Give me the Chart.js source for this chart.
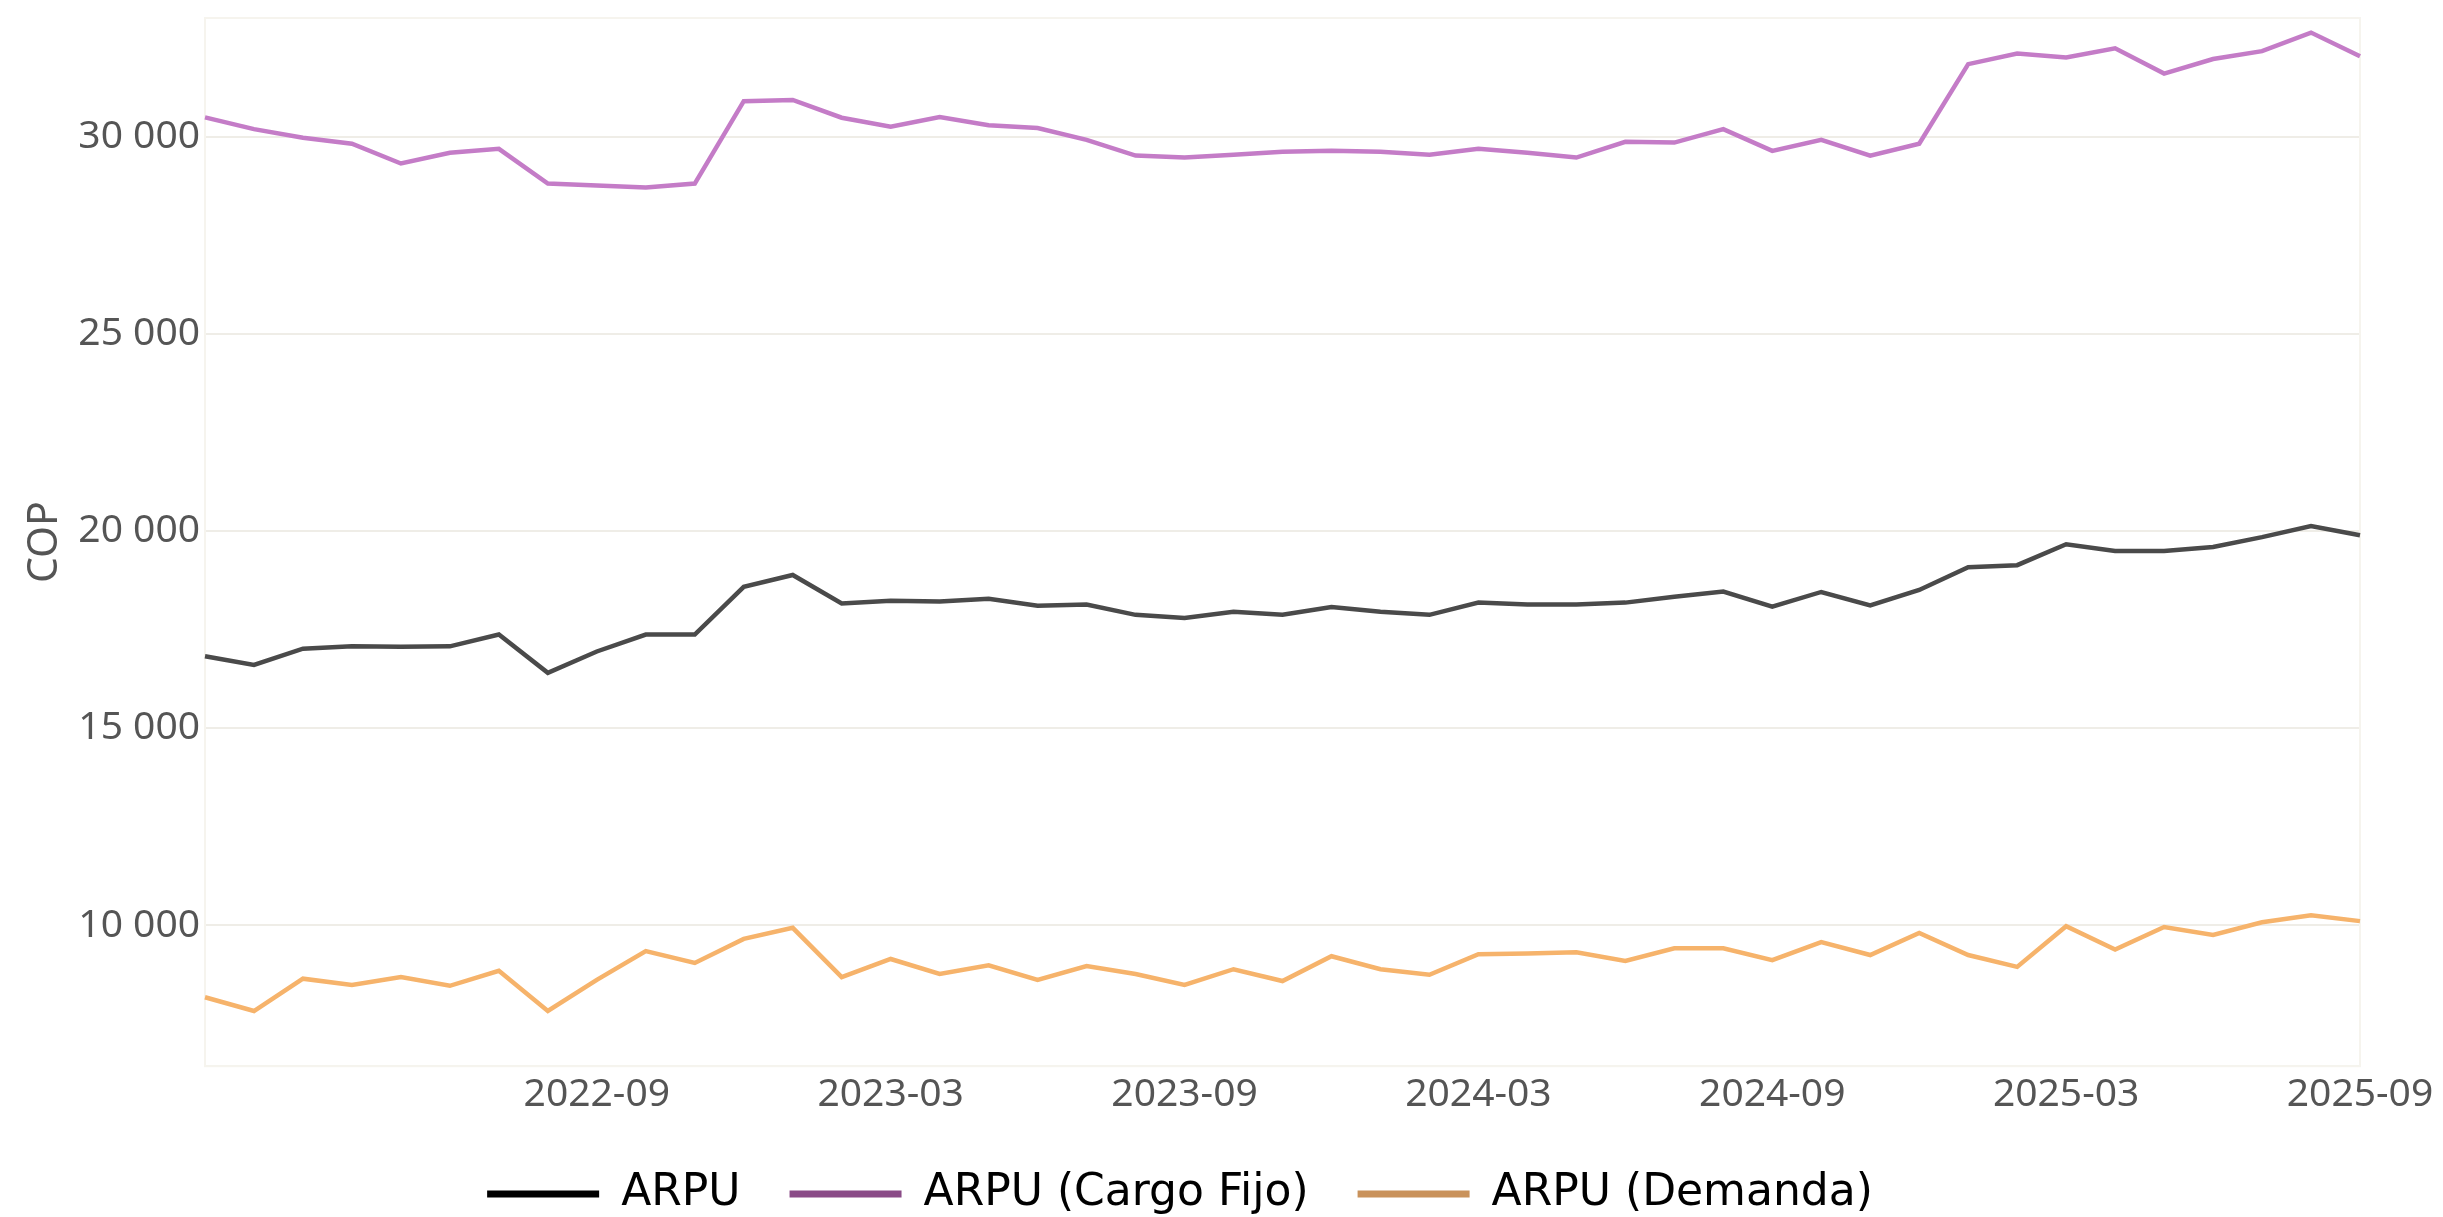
<!DOCTYPE html>
<html>
<head>
<meta charset="utf-8">
<script src="https://cdn.jsdelivr.net/npm/chart.js@4.4.1/dist/chart.umd.min.js"></script>
<style>
  html, body { margin: 0; padding: 0; background: #ffffff; }
  #wrap { width: 2443px; height: 1217px; }
</style>
</head>
<body>
<div id="wrap"><canvas id="arpuChart"></canvas></div>
<script>
const months = [
  "2022-01", "2022-02", "2022-03", "2022-04", "2022-05", "2022-06", "2022-07", "2022-08", "2022-09",
  "2022-10", "2022-11", "2022-12", "2023-01", "2023-02", "2023-03", "2023-04", "2023-05", "2023-06",
  "2023-07", "2023-08", "2023-09", "2023-10", "2023-11", "2023-12", "2024-01", "2024-02", "2024-03",
  "2024-04", "2024-05", "2024-06", "2024-07", "2024-08", "2024-09", "2024-10", "2024-11", "2024-12",
  "2025-01", "2025-02", "2025-03", "2025-04", "2025-05", "2025-06", "2025-07", "2025-08", "2025-09"
];

const arpu = [
  16830, 16610, 17020, 17080, 17070, 17080, 17380, 16410, 16950, 17380, 17380, 18590, 18890,
  18170, 18240, 18220, 18290, 18110, 18140, 17880, 17800, 17960, 17880, 18080, 17960, 17880,
  18190, 18140, 18140, 18190, 18340, 18470, 18090, 18460, 18120, 18510, 19090, 19140, 19670,
  19500, 19500, 19600, 19850, 20130, 19900
];

const arpuCargoFijo = [
  30500, 30200, 29980, 29830, 29330, 29600, 29700, 28820, 28770, 28720, 28820, 30910, 30940,
  30490, 30260, 30510, 30300, 30230, 29930, 29530, 29480, 29550, 29630, 29650, 29630, 29550,
  29700, 29600, 29480, 29880, 29860, 30200, 29650, 29930, 29530, 29830, 31850, 32120, 32020,
  32250, 31610, 31980, 32180, 32650, 32050
];

const arpuDemanda = [
  8180, 7830, 8650, 8490, 8690, 8470, 8850, 7830, 8620, 9350, 9050, 9660, 9940,
  8690, 9150, 8770, 8990, 8620, 8970, 8770, 8490, 8890, 8590, 9220, 8890, 8750,
  9270, 9290, 9320, 9100, 9420, 9420, 9120, 9580, 9250, 9810, 9250, 8950, 9980,
  9390, 9960, 9760, 10080, 10260, 10110
];

const seriesNames = ["ARPU", "ARPU (Cargo Fijo)", "ARPU (Demanda)"];
const yTicks = [10000, 15000, 20000, 25000, 30000];
const xTickLabels = ["2022-09", "2023-03", "2023-09", "2024-03", "2024-09", "2025-03", "2025-09"];

const lineColors = ["#4a4a4a", "#c47cc7", "#f6b36b"];
const legendColors = ["#000000", "#8a4b87", "#c9925b"];

const tickFont = { family: "'Noto Sans', sans-serif", size: 39 };

function formatThousands(value) {
  return String(value).replace(/\B(?=(\d{3})+(?!\d))/g, " ");
}

// faint frame round the plot area, as in the original
const plotFrame = {
  id: "plotFrame",
  beforeDatasetsDraw(chart) {
    const { ctx, chartArea } = chart;
    ctx.save();
    ctx.strokeStyle = "#f6f4ee";
    ctx.lineWidth = 2;
    ctx.strokeRect(chartArea.left, chartArea.top, chartArea.right - chartArea.left, chartArea.bottom - chartArea.top);
    ctx.restore();
  }
};

function createArpuChart() {
  const ctx = document.getElementById("arpuChart");
  const seriesData = [arpu, arpuCargoFijo, arpuDemanda];

  new Chart(ctx, {
    type: "line",
    data: {
      labels: months,
      datasets: seriesData.map((values, i) => ({
        label: seriesNames[i],
        data: values,
        borderColor: lineColors[i],
        backgroundColor: lineColors[i],
        borderWidth: 4.5,
        pointRadius: 0,
        tension: 0,
        fill: false
      }))
    },
    plugins: [plotFrame],
    options: {
      responsive: true,
      maintainAspectRatio: false,
      animation: false,
      layout: {
        padding: { top: 18, right: 83, bottom: -9, left: 0 }
      },
      plugins: {
        tooltip: { enabled: false },
        legend: {
          position: "bottom",
          labels: {
            boxWidth: 112,
            boxHeight: 7,
            padding: 49,
            color: "#000000",
            font: { family: "'DejaVu Sans', sans-serif", size: 44 },
            generateLabels(chart) {
              const items = Chart.defaults.plugins.legend.labels.generateLabels(chart);
              items.forEach((item, i) => {
                item.fillStyle = legendColors[i];
                item.strokeStyle = legendColors[i];
                item.lineWidth = 0;
              });
              return items;
            }
          }
        }
      },
      scales: {
        x: {
          type: "category",
          offset: false,
          grid: { display: false, drawTicks: false },
          border: { display: true, color: "#f6f4ee", width: 2 },
          ticks: {
            autoSkip: false,
            maxRotation: 0,
            minRotation: 0,
            padding: 5,
            color: "#555555",
            font: tickFont,
            callback(value, index) {
              const label = months[index];
              return xTickLabels.includes(label) ? label : "";
            }
          }
        },
        y: {
          min: 6430,
          max: 33020,
          afterBuildTicks(scale) {
            scale.ticks = yTicks.map(v => ({ value: v }));
          },
          afterFit(scale) {
            scale.width = 205;
          },
          grid: { color: "#efede7", lineWidth: 2, drawTicks: false },
          border: { display: true, color: "#f6f4ee", width: 2 },
          ticks: {
            padding: 5,
            color: "#555555",
            font: { family: "'Noto Sans', sans-serif", size: 39, lineHeight: 0.6 },
            callback: value => formatThousands(value)
          },
          title: {
            display: true,
            text: "COP",
            color: "#555555",
            padding: { top: 21, bottom: 0 },
            font: { family: "'Noto Sans', sans-serif", size: 41 }
          }
        }
      }
    }
  });
}

document.addEventListener("DOMContentLoaded", createArpuChart);
</script>
</body>
</html>
